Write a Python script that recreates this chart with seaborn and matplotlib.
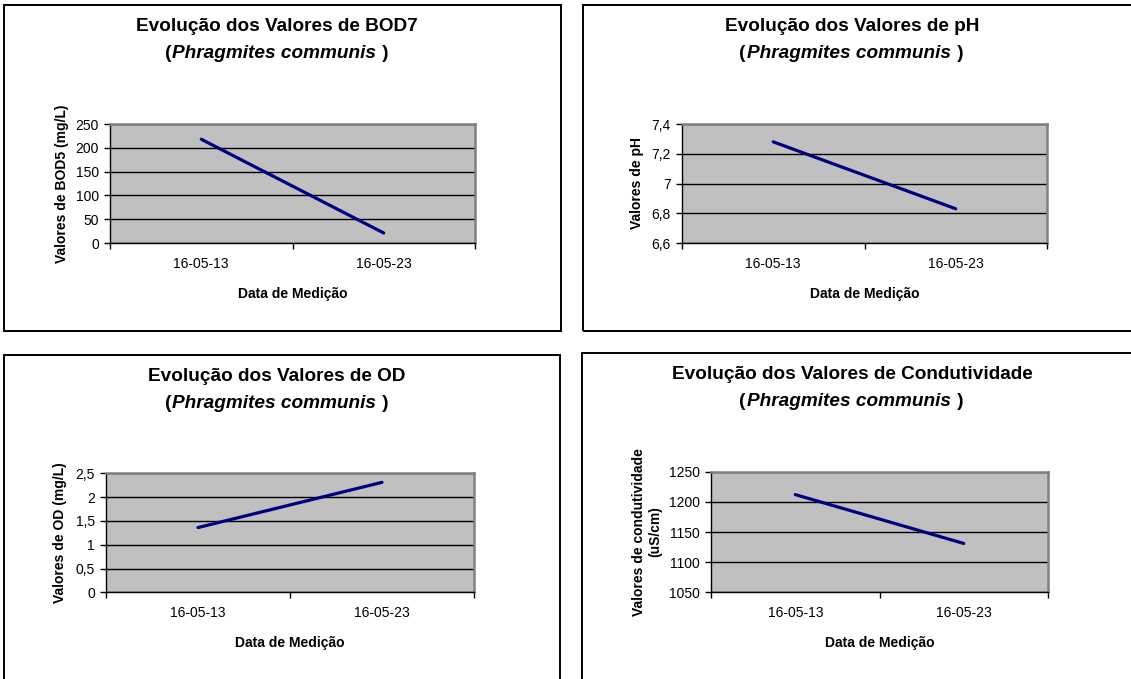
import matplotlib
matplotlib.use("Agg")
import matplotlib.pyplot as plt
import seaborn as sns
import pandas as pd
from matplotlib.patches import Rectangle

# ---------------- data ----------------
dates = ["16-05-13", "16-05-23"]
bod_values = [218, 21]
ph_values = [7.28, 6.83]
od_values = [1.36, 2.31]
cond_values = [1212, 1131]

bod_ticks = [0, 50, 100, 150, 200, 250]
bod_tick_labels = ["0", "50", "100", "150", "200", "250"]
ph_ticks = [6.6, 6.8, 7.0, 7.2, 7.4]
ph_tick_labels = ["6,6", "6,8", "7", "7,2", "7,4"]
od_ticks = [0, 0.5, 1.0, 1.5, 2.0, 2.5]
od_tick_labels = ["0", "0,5", "1", "1,5", "2", "2,5"]
cond_ticks = [1050, 1100, 1150, 1200, 1250]
cond_tick_labels = ["1050", "1100", "1150", "1200", "1250"]

titles = ["Evolução dos Valores de BOD7", "Evolução dos Valores de pH",
          "Evolução dos Valores de OD", "Evolução dos Valores de Condutividade"]
species = "Phragmites communis"
ylabels = ["Valores de BOD5 (mg/L)", "Valores de pH", "Valores de OD (mg/L)",
           "Valores de condutividade\n(uS/cm)"]
xlabel = "Data de Medição"

# ---------------- style ----------------
sns.set_style("white")
plt.rcParams["font.family"] = ["Liberation Sans", "DejaVu Sans"]
plt.rcParams["text.color"] = "black"
plt.rcParams["axes.labelcolor"] = "black"
plt.rcParams["xtick.color"] = "black"
plt.rcParams["ytick.color"] = "black"

W, H = 1131, 679
fig = plt.figure(figsize=(W / 100, H / 100), dpi=100)
fig.patch.set_facecolor("white")


def fx(x):
    return x / W


def fy(y):
    return 1 - y / H


# layout in pixels: panel box, plot area, title centre, y-label offset
panels = [
    dict(box=(4, 5, 561, 331), area=(110, 124, 475, 243), cx=277, ylab_dx=-48,
         values=bod_values, ticks=bod_ticks, tlabels=bod_tick_labels),
    dict(box=(583, 5, 1145, 331), area=(682, 124, 1047, 243), cx=852, ylab_dx=-45,
         values=ph_values, ticks=ph_ticks, tlabels=ph_tick_labels),
    dict(box=(4, 355, 560, 700), area=(106, 473.3, 474, 592.3), cx=277, ylab_dx=-46,
         values=od_values, ticks=od_ticks, tlabels=od_tick_labels),
    dict(box=(582, 353, 1145, 700), area=(711, 471.7, 1048, 592.3), cx=852, ylab_dx=-64,
         values=cond_values, ticks=cond_ticks, tlabels=cond_tick_labels),
]

renderer = fig.canvas.get_renderer()

for i, p in enumerate(panels):
    bx0, by0, bx1, by1 = p["box"]
    fig.add_artist(Rectangle((fx(bx0), fy(by1)), (bx1 - bx0) / W, (by1 - by0) / H,
                             transform=fig.transFigure, fill=False,
                             edgecolor="black", lw=1.4, clip_on=True))
    x0, y0, x1, y1 = p["area"]
    ax = fig.add_axes([fx(x0), fy(y1), (x1 - x0) / W, (y1 - y0) / H])
    df = pd.DataFrame({"Data": dates, "Valor": p["values"]})
    sns.lineplot(data=df, x="Data", y="Valor", ax=ax, color="#000080",
                 lw=2.3, sort=False)
    ax.set_facecolor("#C0C0C0")
    ax.set_xlim(-0.5, 1.5)
    ax.set_ylim(p["ticks"][0], p["ticks"][-1])
    ax.set_yticks(p["ticks"])
    ax.set_yticklabels(p["tlabels"])
    ax.set_xticks([0, 1])
    ax.set_xticklabels(dates)
    ax.set_xticks([-0.5, 0.5, 1.5], minor=True)
    ax.yaxis.grid(True, color="black", lw=1.0)
    ax.xaxis.grid(False)
    ax.set_axisbelow(True)
    for s in ["top", "right"]:
        ax.spines[s].set_color("#808080")
        ax.spines[s].set_linewidth(1.8)
    for s in ["left", "bottom"]:
        ax.spines[s].set_color("black")
        ax.spines[s].set_linewidth(1.0)
    ax.tick_params(axis="x", which="major", length=0, pad=10, labelsize=10)
    ax.tick_params(axis="x", which="minor", length=4, width=1, direction="out",
                   color="black", bottom=True)
    ax.tick_params(axis="y", which="major", length=4, width=1, direction="out",
                   color="black", pad=4, labelsize=10, left=True)
    ax.set_xlabel(xlabel, fontsize=10, fontweight="bold")
    ax.set_ylabel(ylabels[i], fontsize=10, fontweight="bold")
    aw, ah = x1 - x0, y1 - y0
    ax.yaxis.set_label_coords(p["ylab_dx"] / aw, 0.5)
    ax.yaxis.label.set_verticalalignment("center")
    ax.xaxis.set_label_coords(0.5, -50.5 / ah)
    ax.xaxis.label.set_verticalalignment("center")

    # titles
    top = by0
    fig.text(fx(p["cx"]), fy(top + 26), titles[i], ha="center", va="baseline",
             fontsize=13.7, fontweight="bold")
    t_mid = fig.text(fx(p["cx"] - 3), fy(top + 53), species, ha="center",
                     va="baseline", fontsize=13.7, fontweight="bold",
                     fontstyle="italic")
    bb = t_mid.get_window_extent(renderer)
    fig.text(bb.x0 / W - 1 / W, fy(top + 53), "(", ha="right", va="baseline",
             fontsize=13.7, fontweight="bold")
    fig.text(bb.x1 / W + 1 / W, fy(top + 53), " )", ha="left", va="baseline",
             fontsize=13.7, fontweight="bold")

fig.savefig("out.png", dpi=100, facecolor="white")
